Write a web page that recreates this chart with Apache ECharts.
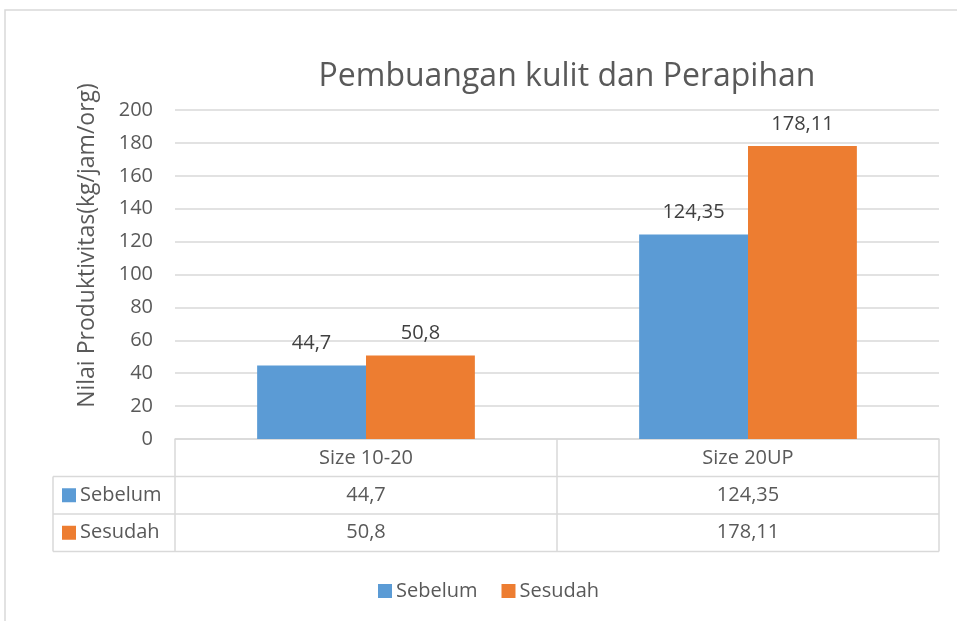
<!DOCTYPE html>
<html>
<head>
<meta charset="utf-8">
<script src="https://cdn.jsdelivr.net/npm/echarts@6/dist/echarts.min.js"></script>
<style>
  html, body { margin: 0; padding: 0; background: #fff; }
  #chart { width: 957px; height: 621px; }
</style>
</head>
<body>
<div id="chart"></div>
<script>
const categories = ['Size 10-20', 'Size 20UP'];
const seriesNames = ['Sebelum', 'Sesudah'];
const sebelum = [44.7, 124.35];
const sesudah = [50.8, 178.11];
const colors = ['#5b9bd5', '#ed7d31'];

const FONT = '"Open Sans", sans-serif';
const TXT = '#595959';
const LINE = '#d9d9d9';

// grid box (plot area)
const G = { left: 175, right: 18, top: 110, bottom: 182 };
const W = 957, H = 621;
const rowH = 37.5;

const fmt = (v) => String(v).replace('.', ',');

const myChart = echarts.init(document.getElementById('chart'));

function tableGraphics() {
  const x0 = G.left, x1 = W - G.right;
  const y0 = H - G.bottom;
  const colW = (x1 - x0) / categories.length;
  const leftX = 53;
  const els = [];
  const line = (ax, ay, bx, by) => els.push({
    type: 'line', shape: { x1: ax, y1: ay, x2: bx, y2: by },
    style: { stroke: LINE, lineWidth: 1.5 }, silent: true
  });
  line(x0, y0, x0, y0 + rowH * 3);
  line(x1, y0, x1, y0 + rowH * 3);
  for (let i = 1; i < categories.length; i++) line(x0 + colW * i, y0, x0 + colW * i, y0 + rowH * 3);
  line(leftX, y0 + rowH, x1, y0 + rowH);
  line(leftX, y0 + rowH * 2, x1, y0 + rowH * 2);
  line(leftX, y0 + rowH * 3, x1, y0 + rowH * 3);
  line(leftX, y0 + rowH, leftX, y0 + rowH * 3);
  [sebelum, sesudah].forEach((vals, r) => {
    const cy = y0 + rowH * (r + 1) + rowH / 2;
    els.push({ type: 'rect', shape: { x: leftX + 9, y: cy - 7, width: 14, height: 14 },
      style: { fill: colors[r] }, silent: true });
    els.push({ type: 'text', x: leftX + 27, y: cy,
      style: { text: seriesNames[r], fill: TXT, font: '20px ' + FONT, verticalAlign: 'middle', align: 'left' },
      silent: true });
    vals.forEach((v, c) => {
      els.push({ type: 'text', x: x0 + colW * c + colW / 2, y: cy,
        style: { text: fmt(v), fill: TXT, font: '20px ' + FONT, verticalAlign: 'middle', align: 'center' },
        silent: true });
    });
  });
  // outer chart border
  els.push({ type: 'rect', shape: { x: 5, y: 10, width: W + 20, height: H + 20 },
    style: { fill: 'none', stroke: LINE, lineWidth: 1.5 }, silent: true, z: -1 });
  return els;
}

const barLabel = {
  show: true, position: 'top', distance: 12, fontSize: 20, color: '#404040',
  fontFamily: FONT, formatter: (p) => fmt(p.value)
};

const option = {
  animation: false,
  textStyle: { fontFamily: FONT },
  color: colors,
  title: {
    text: 'Pembuangan kulit dan Perapihan',
    left: 562, top: 56, textAlign: 'center',
    textStyle: { fontSize: 32, fontWeight: 'normal', color: TXT, fontFamily: FONT }
  },
  legend: {
    data: seriesNames,
    left: 373, top: 576,
    itemWidth: 14, itemHeight: 14, itemGap: 24,
    icon: 'rect',
    textStyle: { fontSize: 20, color: TXT, fontFamily: FONT, padding: [0, 0, 0, -1] }
  },
  grid: { left: G.left, right: G.right, top: G.top, bottom: G.bottom, containLabel: false },
  xAxis: {
    type: 'category',
    data: categories,
    axisLine: { lineStyle: { color: LINE, width: 1.5 } },
    axisTick: { show: false },
    axisLabel: { fontSize: 20, color: TXT, margin: 9, fontFamily: FONT }
  },
  yAxis: {
    type: 'value',
    min: 0, max: 200, interval: 20,
    name: 'Nilai Produktivitas(kg/jam/org)',
    nameLocation: 'middle',
    nameGap: 76,
    nameTextStyle: { fontSize: 23, color: TXT, fontFamily: FONT, padding: [0, 0, 0, 58] },
    axisLine: { show: false },
    axisTick: { show: false },
    axisLabel: { fontSize: 20, color: TXT, margin: 22, fontFamily: FONT },
    splitLine: { lineStyle: { color: LINE, width: 1.5 } }
  },
  series: [
    { name: seriesNames[0], type: 'bar', data: sebelum, barGap: '0%', barCategoryGap: '43%', label: barLabel },
    { name: seriesNames[1], type: 'bar', data: sesudah, barGap: '0%', barCategoryGap: '43%', label: barLabel }
  ],
  graphic: tableGraphics()
};

myChart.setOption(option);
</script>
</body>
</html>
